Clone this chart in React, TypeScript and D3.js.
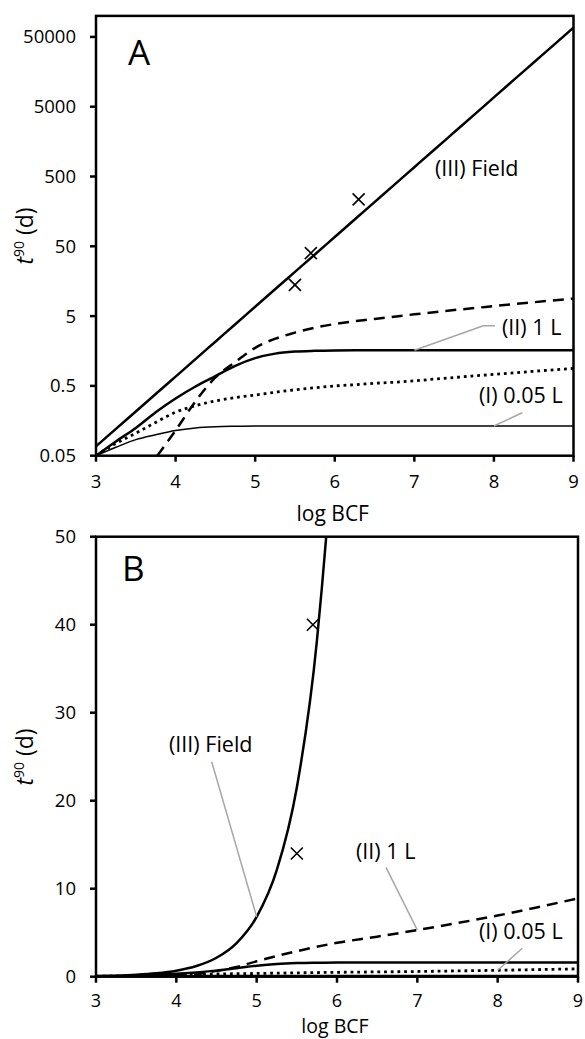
import * as d3 from "d3";

// log BCF grid used by most series
const logBCF = [3, 3.25, 3.5, 3.75, 4, 4.25, 4.5, 4.75, 5, 5.25, 5.5, 5.75, 6, 6.25, 6.5, 6.75, 7, 7.25, 7.5, 7.75, 8, 8.25, 8.5, 8.75, 9];

// (III) Field
const fieldT90 = [0.068, 0.121, 0.215, 0.382, 0.68, 1.21, 2.15, 3.82, 6.8, 12.1, 21.5, 38.2, 68, 121, 215, 382, 680, 1210, 2150, 3820, 6800, 12100, 21500, 38200, 68000];
// thick solid
const solidT90 = [0.05, 0.08, 0.125, 0.21, 0.33, 0.49, 0.69, 0.97, 1.25, 1.45, 1.55, 1.59, 1.61, 1.62, 1.62, 1.62, 1.62, 1.62, 1.62, 1.62, 1.62, 1.62, 1.62, 1.62, 1.62];
// dotted
const dottedT90 = [0.05, 0.075, 0.105, 0.15, 0.21, 0.26, 0.305, 0.34, 0.37, 0.405, 0.44, 0.47, 0.5, 0.52, 0.545, 0.565, 0.59, 0.625, 0.66, 0.695, 0.73, 0.77, 0.81, 0.85, 0.89];
// thin solid
const thinT90 = [0.05, 0.066, 0.085, 0.1, 0.115, 0.125, 0.13, 0.132, 0.133, 0.133, 0.133, 0.133, 0.133, 0.133, 0.133, 0.133, 0.133, 0.133, 0.133, 0.133, 0.133, 0.133, 0.133, 0.133, 0.133];

// dashed (starts later)
const dashedBCF = [3.77, 4, 4.25, 4.5, 4.75, 5, 5.5, 6, 6.5, 7, 7.5, 8, 8.5, 9];
const dashedT90 = [0.05, 0.115, 0.3, 0.66, 1.1, 1.75, 2.9, 3.85, 4.55, 5.3, 6.1, 6.95, 7.9, 8.9];

// measured points
const obsBCF = [5.5, 5.7, 6.3];
const obsT90 = [14, 40, 235];

const xTicks = [3, 4, 5, 6, 7, 8, 9];
const logTicks = [0.05, 0.5, 5, 50, 500, 5000, 50000];
const linTicks = [0, 10, 20, 30, 40, 50];

const FONT = "'Open Sans', sans-serif";
const GRAY = "#a6a6a6";

type Pt = [number, number];
const zip = (xs: number[], ys: number[]): Pt[] => xs.map((x, i) => [x, ys[i]]);

const series = [
  { id: "field", pts: zip(logBCF, fieldT90), width: 2.5, dash: undefined as string | undefined },
  { id: "solid", pts: zip(logBCF, solidT90), width: 2.5, dash: undefined },
  { id: "dashed", pts: zip(dashedBCF, dashedT90), width: 2.5, dash: "11 7" },
  { id: "dotted", pts: zip(logBCF, dottedT90), width: 2.8, dash: "2.8 3.9" },
  { id: "thin", pts: zip(logBCF, thinT90), width: 1.5, dash: undefined },
];

const Cross = ({ x, y }: { x: number; y: number }) => (
  <path d={`M${x - 6},${y - 6}L${x + 6},${y + 6}M${x - 6},${y + 6}L${x + 6},${y - 6}`} stroke="#000" strokeWidth={1.6} />
);

type Note = { text: string; tx: number; ty: number; lead: Pt[]; target: Pt };

const Panel = ({
  id, x0, x1, y, label, labelPos, notes, yLabelY, tickLabelY, titleY, tickSize, titleSize,
}: {
  id: string; x0: number; x1: number; y: any; label: string; labelPos: Pt;
  notes: Note[]; yLabelY: number; tickLabelY: number; titleY: number; tickSize: number; titleSize: number;
}) => {
  const x = d3.scaleLinear().domain([3, 9]).range([x0, x1]);
  const [yb, yt] = y.range();
  const line = d3.line<Pt>().x((d) => x(d[0])).y((d) => y(d[1])).curve(d3.curveMonotoneX);
  const yTicks: number[] = id === "A" ? logTicks : linTicks;
  return (
    <g>
      <defs>
        <clipPath id={`clip-${id}`}>
          <rect x={x0} y={yt} width={x1 - x0} height={yb - yt} />
        </clipPath>
      </defs>
      <g clipPath={`url(#clip-${id})`}>
        {series.map((s) => (
          <path key={s.id} d={line(s.pts) || ""} fill="none" stroke="#000" strokeWidth={s.width} strokeDasharray={s.dash} />
        ))}
        {obsBCF.map((b, i) => (
          <Cross key={i} x={x(b)} y={y(obsT90[i])} />
        ))}
      </g>
      {notes.map((n, i) => {
        const pts: Pt[] = [...n.lead, [x(n.target[0]), y(n.target[1])]];
        return (
          <g key={i}>
            {n.lead.length > 0 && <path d={d3.line()(pts) || ""} fill="none" stroke={GRAY} strokeWidth={1.5} />}
            <text x={n.tx} y={n.ty} fontSize={21.5} fontFamily={FONT} fill="#000">{n.text}</text>
          </g>
        );
      })}
      <rect x={x0} y={yt} width={x1 - x0} height={yb - yt} fill="none" stroke="#000" strokeWidth={2.5} />
      {yTicks.map((t) => (
        <g key={t}>
          <line x1={x0 - 6} x2={x0} y1={y(t)} y2={y(t)} stroke="#000" strokeWidth={2.5} />
          <text x={x0 - 20} y={y(t)} dy="0.35em" textAnchor="end" fontSize={18.5} fontFamily={FONT}>{String(t)}</text>
        </g>
      ))}
      {xTicks.map((t) => (
        <g key={t}>
          <line x1={x(t)} x2={x(t)} y1={yb} y2={yb + 6} stroke="#000" strokeWidth={2.5} />
          <text x={x(t)} y={tickLabelY} textAnchor="middle" fontSize={tickSize} fontFamily={FONT}>{t}</text>
        </g>
      ))}
      <text x={(x0 + x1) / 2 - 2} y={titleY} textAnchor="middle" fontSize={titleSize} fontFamily={FONT}>log BCF</text>
      <text transform={`translate(33,${yLabelY}) rotate(-90)`} textAnchor="middle" fontSize={23} fontFamily={FONT}>
        <tspan fontStyle="italic">t</tspan>
        <tspan fontSize={14} dy={-9}>90</tspan>
        <tspan dy={9}> (d)</tspan>
      </text>
      <text x={labelPos[0]} y={labelPos[1]} fontSize={35} fontFamily={FONT}>{label}</text>
    </g>
  );
};

export default function App() {
  const yA = d3.scaleLog().domain([0.05, 100000]).range([455.7, 15.9]);
  const yB = d3.scaleLinear().domain([0, 50]).range([976.7, 536.7]);

  const notesA: Note[] = [
    { text: "(III) Field", tx: 435, ty: 176, lead: [], target: [6.3, 235] },
    { text: "(II) 1 L", tx: 502, ty: 335, lead: [[495, 325.7], [483.3, 325.7]], target: [7, 1.62] },
    { text: "(I) 0.05 L", tx: 479, ty: 403, lead: [[522.3, 412.7]], target: [8, 0.133] },
  ];
  const notesB: Note[] = [
    { text: "(III) Field", tx: 169, ty: 751.5, lead: [[211.7, 761.7]], target: [5, 6.8] },
    { text: "(II) 1 L", tx: 356, ty: 858.5, lead: [[386, 867.3]], target: [7, 5.3] },
    { text: "(I) 0.05 L", tx: 479, ty: 939, lead: [[522.3, 948.3]], target: [8, 0.73] },
  ];

  return (
    <svg width={585} height={1039} style={{ position: "absolute", left: 0, top: 0, background: "#fff" }}>
      <Panel id="A" x0={96} x1={573.5} y={yA} label="A" labelPos={[128, 65]}
        notes={notesA} yLabelY={236} tickLabelY={488} titleY={521} tickSize={18.5} titleSize={21} />
      <Panel id="B" x0={96} x1={578} y={yB} label="B" labelPos={[122, 580.7]}
        notes={notesB} yLabelY={757} tickLabelY={1007} titleY={1033.3} tickSize={18} titleSize={19.5} />
    </svg>
  );
}
